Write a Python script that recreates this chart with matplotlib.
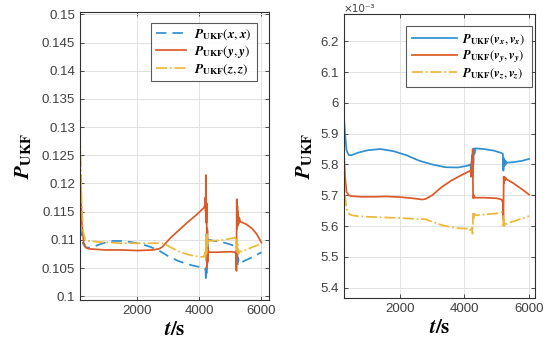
import matplotlib
matplotlib.use("Agg")
import matplotlib.pyplot as plt
from matplotlib.ticker import FuncFormatter

plt.rcParams['mathtext.fontset'] = 'stix'
plt.rcParams['font.family'] = ['Liberation Sans', 'DejaVu Sans']

# ---------------- Left panel: position covariance ----------------
t_xx = [160, 200, 260, 330, 420, 600, 900, 1200, 1500, 1800, 2100, 2400, 2700, 3000, 3300, 3600, 3900,
        4100, 4180, 4200, 4215, 4230, 4245, 4260, 4275, 4300, 4500, 4800, 5100, 5170, 5190, 5205, 5220,
        5235, 5250, 5280, 5350, 5500, 5700, 6000]
p_xx = [0.1125, 0.1110, 0.1093, 0.1087, 0.1086, 0.1088, 0.1094, 0.1098, 0.1098, 0.1096, 0.1093, 0.1088,
        0.1081, 0.1071, 0.1063, 0.1057, 0.1053, 0.1051, 0.1050, 0.1045, 0.1027, 0.1110, 0.1040, 0.1115,
        0.1085, 0.1100, 0.1098, 0.1095, 0.1090, 0.1088, 0.1086, 0.1060, 0.1090, 0.1055, 0.1068, 0.1058,
        0.1060, 0.1064, 0.1069, 0.1078]

t_yy = [160, 220, 280, 350, 450, 700, 1000, 1500, 2000, 2500, 2700, 2800, 2900, 3100, 3300, 3600, 3900,
        4150, 4180, 4195, 4205, 4215, 4225, 4235, 4245, 4255, 4265, 4280, 4300, 4600, 5000, 5150, 5180,
        5195, 5205, 5215, 5225, 5235, 5245, 5260, 5280, 5320, 5500, 5700, 5850, 6000]
p_yy = [0.1220, 0.1130, 0.1095, 0.1086, 0.1084, 0.1083, 0.1082, 0.1082, 0.1081, 0.1082, 0.1084, 0.1087,
        0.1093, 0.1105, 0.1115, 0.1130, 0.1144, 0.1157, 0.1162, 0.1175, 0.1150, 0.1215, 0.1130, 0.1165,
        0.1050, 0.1120, 0.1060, 0.1085, 0.1078, 0.1078, 0.1079, 0.1078, 0.1075, 0.1045, 0.1172, 0.1120,
        0.1160, 0.1125, 0.1150, 0.1128, 0.1140, 0.1132, 0.1128, 0.1120, 0.1110, 0.1095]

t_zz = [160, 180, 210, 260, 330, 450, 800, 1500, 2200, 2800, 2900, 3100, 3400, 3700, 4000, 4150, 4190, 4205,
        4220, 4235, 4250, 4265, 4285, 4310, 4600, 4900, 5150, 5180, 5195, 5210, 5225, 5240, 5260, 5290,
        5350, 5500, 5700, 6000]
p_zz = [0.1282, 0.1240, 0.1170, 0.1115, 0.1100, 0.1098, 0.1096, 0.1094, 0.1094, 0.1094, 0.1092, 0.1086,
        0.1078, 0.1073, 0.1070, 0.1070, 0.1078, 0.1065, 0.1105, 0.1075, 0.1110, 0.1090, 0.1100, 0.1098,
        0.1099, 0.1101, 0.1104, 0.1100, 0.1085, 0.1102, 0.1078, 0.1092, 0.1075, 0.1080, 0.1079, 0.1082,
        0.1087, 0.1093]

# ---------------- Right panel: velocity covariance (x1e-3) ----------------
t_vx = [270, 300, 350, 420, 500, 700, 1000, 1400, 1800, 2200, 2600, 3000, 3400, 3800, 4100, 4180, 4210,
        4230, 4245, 4260, 4275, 4290, 4310, 4340, 4600, 4900, 5150, 5190, 5205, 5215, 5225, 5240, 5255,
        5270, 5290, 5320, 5500, 5800, 6000]
p_vx = [5.955, 5.900, 5.845, 5.830, 5.830, 5.838, 5.846, 5.850, 5.843, 5.830, 5.812, 5.800, 5.791, 5.790,
        5.796, 5.800, 5.775, 5.830, 5.760, 5.845, 5.800, 5.852, 5.835, 5.852, 5.850, 5.845, 5.837, 5.834,
        5.780, 5.820, 5.795, 5.815, 5.798, 5.812, 5.802, 5.806, 5.807, 5.812, 5.818]

t_vy = [270, 300, 350, 420, 500, 800, 1200, 1600, 2000, 2400, 2700, 2800, 3000, 3300, 3600, 3900, 4150,
        4190, 4210, 4225, 4240, 4255, 4265, 4275, 4290, 4320, 4600, 5000, 5150, 5190, 5205, 5215, 5225,
        5235, 5250, 5270, 5300, 5500, 5800, 6000]
p_vy = [5.835, 5.760, 5.710, 5.700, 5.697, 5.695, 5.695, 5.696, 5.694, 5.690, 5.686, 5.688, 5.700, 5.727,
        5.748, 5.765, 5.778, 5.780, 5.760, 5.810, 5.770, 5.850, 5.700, 5.690, 5.700, 5.692, 5.692, 5.690,
        5.686, 5.675, 5.620, 5.760, 5.740, 5.760, 5.748, 5.757, 5.752, 5.740, 5.718, 5.702]

t_vz = [270, 300, 350, 420, 500, 700, 1000, 1500, 2000, 2500, 2800, 3000, 3300, 3600, 3900, 4150, 4200,
        4230, 4250, 4265, 4280, 4300, 4350, 4600, 5000, 5150, 5190, 5205, 5220, 5235, 5250, 5280, 5350,
        5600, 6000]
p_vz = [5.760, 5.700, 5.655, 5.640, 5.635, 5.632, 5.630, 5.628, 5.626, 5.623, 5.622, 5.614, 5.603, 5.596,
        5.592, 5.592, 5.580, 5.595, 5.575, 5.640, 5.620, 5.640, 5.635, 5.637, 5.641, 5.645, 5.640, 5.595,
        5.620, 5.600, 5.612, 5.605, 5.610, 5.618, 5.632]

x_ticks = [2000, 4000, 6000]
left_yticks = [0.1, 0.105, 0.11, 0.115, 0.12, 0.125, 0.13, 0.135, 0.14, 0.145, 0.15]
right_yticks = [5.4, 5.5, 5.6, 5.7, 5.8, 5.9, 6.0, 6.1, 6.2]

labels_left = [r'$\mathbfit{P}_{\mathbf{UKF}}(\mathbfit{x},\mathbfit{x})$',
               r'$\mathbfit{P}_{\mathbf{UKF}}(\mathbfit{y},\mathbfit{y})$',
               r'$\mathbfit{P}_{\mathbf{UKF}}(\mathbfit{z},\mathbfit{z})$']
labels_right = [r'$\mathbfit{P}_{\mathbf{UKF}}(\mathbfit{v}_{\mathbfit{x}},\mathbfit{v}_{\mathbfit{x}})$',
                r'$\mathbfit{P}_{\mathbf{UKF}}(\mathbfit{v}_{\mathbfit{y}},\mathbfit{v}_{\mathbfit{y}})$',
                r'$\mathbfit{P}_{\mathbf{UKF}}(\mathbfit{v}_{\mathbfit{z}},\mathbfit{v}_{\mathbfit{z}})$']

BLUE, ORANGE, YELLOW = '#2f8fd0', '#dc5a25', '#edb83a'
TXT = '#404040'

fig = plt.figure(figsize=(5.5, 3.45), dpi=100)
axL = fig.add_axes([0.1455, 0.130, 0.344, 0.835])
axR = fig.add_axes([0.6255, 0.136, 0.347, 0.823])


def style(ax):
    ax.grid(True, color='#e2e2e2', linewidth=0.7)
    ax.set_axisbelow(True)
    for s in ax.spines.values():
        s.set_color('#303030')
        s.set_linewidth(0.8)
    ax.tick_params(direction='in', top=True, right=True, length=3, width=0.6,
                   colors='#303030', labelcolor=TXT, labelsize=9.5)
    ax.set_xticks(x_ticks)
    ax.set_xlabel(r'$\mathbfit{t}\mathbf{/s}$', fontsize=15, labelpad=2)


lw = 1.25
axL.plot(t_xx, p_xx, color=BLUE, lw=lw, dashes=(6, 3.5), label=labels_left[0])
axL.plot(t_yy, p_yy, color=ORANGE, lw=lw, label=labels_left[1])
axL.plot(t_zz, p_zz, color=YELLOW, lw=lw, linestyle='-.', label=labels_left[2])
axL.set_xlim(160, 6250)
axL.set_ylim(0.0993, 0.1504)
axL.set_yticks(left_yticks)
axL.yaxis.set_major_formatter(FuncFormatter(lambda v, p: '%g' % round(v, 4)))
style(axL)
axL.set_ylabel(r'$\mathbfit{P}_{\mathbf{UKF}}$', fontsize=15, labelpad=6)
legL = axL.legend(loc='upper right', fontsize=9.5, frameon=True, fancybox=False,
                  edgecolor='#303030', handlelength=2.3, borderpad=0.35, labelspacing=0.15,
                  handletextpad=0.6, borderaxespad=0, bbox_to_anchor=(0.933, 0.963))
legL.get_frame().set_linewidth(0.8)

axR.plot(t_vx, p_vx, color=BLUE, lw=lw, label=labels_right[0])
axR.plot(t_vy, p_vy, color=ORANGE, lw=lw, label=labels_right[1])
axR.plot(t_vz, p_vz, color=YELLOW, lw=lw, linestyle='-.', label=labels_right[2])
axR.set_xlim(270, 6180)
axR.set_ylim(5.366, 6.288)
axR.set_yticks(right_yticks)
axR.yaxis.set_major_formatter(FuncFormatter(lambda v, p: '%g' % round(v, 2)))
style(axR)
axR.set_ylabel(r'$\mathbfit{P}_{\mathbf{UKF}}$', fontsize=15, labelpad=4)
axR.text(0.0, 1.0, '\u00d710\u207b\u00b3', transform=axR.transAxes, ha='left', va='bottom',
         fontsize=7.5, color=TXT, family='DejaVu Sans')
legR = axR.legend(loc='upper right', fontsize=9, frameon=True, fancybox=False,
                  edgecolor='#303030', handlelength=3.6, borderpad=0.5, labelspacing=0.1,
                  handletextpad=0.4, borderaxespad=0, bbox_to_anchor=(0.984, 0.958))
legR.get_frame().set_linewidth(0.8)

fig.savefig('out.png', dpi=100)
